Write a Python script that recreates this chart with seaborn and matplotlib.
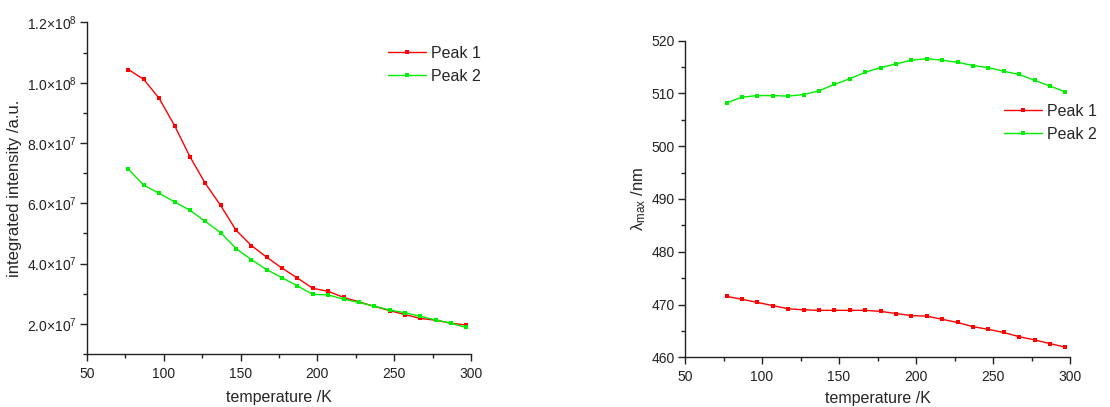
import numpy as np
import pandas as pd
import matplotlib
matplotlib.use("Agg")
import matplotlib.pyplot as plt
from matplotlib.ticker import MultipleLocator, FuncFormatter
import seaborn as sns

temperature = [77, 87, 97, 107, 117, 127, 137, 147, 157, 167, 177, 187,
               197, 207, 217, 227, 237, 247, 257, 267, 277, 287, 297]
intensity_peak1 = [104.4, 101.1, 94.8, 85.8, 75.5, 66.6, 59.3, 51.1, 46.0, 42.1, 38.5, 35.2,
                   31.8, 30.8, 28.8, 27.3, 25.8, 24.4, 23.1, 21.8, 21.2, 20.2, 19.6]
intensity_peak2 = [71.3, 66.0, 63.3, 60.5, 57.7, 54.0, 50.3, 45.0, 41.3, 38.0, 35.3, 32.6,
                   29.8, 29.6, 28.2, 27.1, 25.9, 24.6, 23.7, 22.5, 21.3, 20.2, 18.8]  # x1e6
lambda_peak1 = [471.55, 471.0, 470.4, 469.8, 469.2, 469.0, 468.9, 468.9, 468.9, 468.9, 468.7, 468.3,
                467.9, 467.8, 467.2, 466.6, 465.8, 465.3, 464.7, 463.9, 463.3, 462.6, 461.9]
lambda_peak2 = [508.2, 509.3, 509.6, 509.6, 509.5, 509.8, 510.5, 511.7, 512.8, 514.0, 514.9, 515.6,
                516.3, 516.6, 516.3, 515.9, 515.3, 514.9, 514.2, 513.6, 512.5, 511.4, 510.3]
series_names = ["Peak 1", "Peak 2"]
colors = ["#ff0000", "#00ee00"]

sns.set_style("ticks")
plt.rcParams["font.family"] = ["Liberation Sans", "DejaVu Sans"]
plt.rcParams["mathtext.fontset"] = "custom"
plt.rcParams["mathtext.rm"] = "Liberation Sans"
plt.rcParams["mathtext.it"] = "Liberation Sans:italic"
plt.rcParams["mathtext.bf"] = "Liberation Sans:bold"

n = len(temperature)
df_int = pd.DataFrame({
    "T": temperature * 2,
    "val": [v * 1e6 for v in intensity_peak1] + [v * 1e6 for v in intensity_peak2],
    "series": [series_names[0]] * n + [series_names[1]] * n,
})
df_lam = pd.DataFrame({
    "T": temperature * 2,
    "val": lambda_peak1 + lambda_peak2,
    "series": [series_names[0]] * n + [series_names[1]] * n,
})

fig = plt.figure(figsize=(11.10, 4.07), dpi=100)
W, H = 1110, 407
ax1 = fig.add_axes([87 / W, 1 - 354 / H, (471 - 87) / W, (354 - 22.5) / H])
ax2 = fig.add_axes([685 / W, 1 - 357.3 / H, (1070 - 685) / W, (357.3 - 40.7) / H])

pal = dict(zip(series_names, colors))
for ax, df in [(ax1, df_int), (ax2, df_lam)]:
    sns.lineplot(data=df, x="T", y="val", hue="series", palette=pal, ax=ax,
                 marker="s", markersize=3.2, markeredgewidth=0, linewidth=1.0,
                 legend=True)
    ax.set_xlim(50, 300)
    ax.xaxis.set_major_locator(MultipleLocator(50))
    for s in ["top", "right"]:
        ax.spines[s].set_visible(False)
    for s in ["left", "bottom"]:
        ax.spines[s].set_linewidth(1.0)
        ax.spines[s].set_color("#222222")
    ax.minorticks_on()
    ax.xaxis.set_minor_locator(MultipleLocator(25))
    ax.tick_params(axis="both", which="major", direction="out", length=5, width=1,
                   labelsize=10, colors="#222222", labelcolor="#222222")
    ax.tick_params(axis="both", which="minor", direction="out", length=3, width=1,
                   colors="#222222")
    ax.tick_params(axis="y", which="major", pad=2.5)
    ax.tick_params(axis="x", which="major", pad=4)

ax1.set_xlabel("temperature /K", fontsize=11.5, labelpad=7)
ax2.set_xlabel("temperature /K", fontsize=11.5, labelpad=5)

ax1.set_ylim(1e7, 1.2e8)
ax1.yaxis.set_major_locator(MultipleLocator(2e7))
ax1.yaxis.set_minor_locator(MultipleLocator(1e7))

def sci(v, pos):
    if v == 0:
        return "0"
    e = int(np.floor(np.log10(abs(v))))
    m = v / 10 ** e
    return r"$%.1f{\times}10^{%d}$" % (m, e)

ax1.yaxis.set_major_formatter(FuncFormatter(sci))
ax1.set_ylabel("integrated intensity /a.u.", fontsize=12, labelpad=3)

ax2.set_ylim(460, 520)
ax2.yaxis.set_major_locator(MultipleLocator(10))
ax2.yaxis.set_minor_locator(MultipleLocator(5))
ax2.set_ylabel(r"λ$_{\mathrm{max}}$ /nm", fontsize=12, labelpad=2)

leg_kw = dict(loc="upper left", frameon=False, fontsize=11.5, handlelength=2.4,
              handletextpad=0.3, labelspacing=0.5, borderpad=0, borderaxespad=0,
              bbox_transform=fig.transFigure)
ax1.legend(bbox_to_anchor=(388 / W, 1 - 46 / H), **leg_kw)
ax2.legend(bbox_to_anchor=(1004 / W, 1 - 104 / H), **leg_kw)

fig.savefig("out.png", dpi=100)
